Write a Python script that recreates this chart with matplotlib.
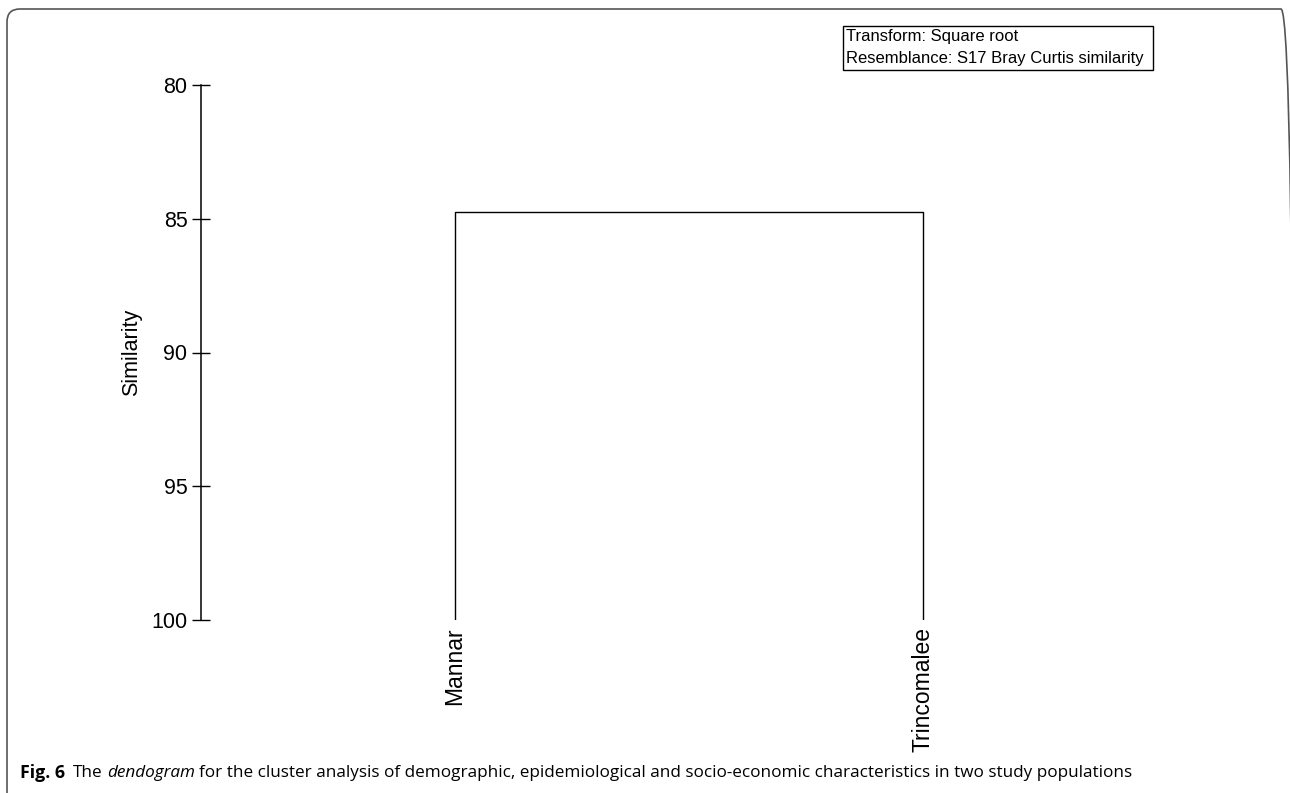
import matplotlib
matplotlib.use('Agg')
import matplotlib.pyplot as plt
from matplotlib.patches import FancyBboxPatch

# Data: leaves and the level at which they join
leaves = ['Mannar', 'Trincomalee']
join_similarity = 84.75
y_ticks = [80, 85, 90, 95, 100]
legend_lines = ['Transform: Square root', 'Resemblance: S17 Bray Curtis similarity']

plt.rcParams['font.family'] = ['Liberation Sans', 'DejaVu Sans']

W, H = 1290, 793
fig = plt.figure(figsize=(W / 100, H / 100), dpi=100)

# Rounded panel border (bottom and right edge run off the image)
border = FancyBboxPatch((7 / W, -0.05), (1294 - 7) / W, (H - 9) / H + 0.05,
                        boxstyle='round,pad=0,rounding_size=%f' % (13 / W),
                        transform=fig.transFigure, facecolor='none',
                        edgecolor='#555555', linewidth=1.2, mutation_aspect=W / H)
fig.patches.append(border)

# Axes placed to match the reference pixel layout
left, right = 201, 1177
top, bottom = 85, 620
ax = fig.add_axes([left / W, 1 - bottom / H, (right - left) / W, (bottom - top) / H])
ax.patch.set_alpha(0)

xs = list(range(1, len(leaves) + 1))
ax.plot([xs[0], xs[0], xs[1], xs[1]],
        [y_ticks[-1], join_similarity, join_similarity, y_ticks[-1]],
        color='black', linewidth=1.0, solid_capstyle='butt')

ax.set_ylim(y_ticks[-1], y_ticks[0])
ax.set_xlim(0.4573, 2.543)
ax.set_yticks(y_ticks)
ax.set_xticks([])
for side in ['top', 'right', 'bottom']:
    ax.spines[side].set_visible(False)
ax.spines['left'].set_linewidth(1.1)
ax.tick_params(axis='y', direction='inout', length=13.5, width=1.0, labelsize=15.5, pad=3)
ax.set_ylabel('Similarity', fontsize=15.5, labelpad=7)

for x, name in zip(xs, leaves):
    ax.annotate(name, xy=(x, y_ticks[-1]), xytext=(0, -5), textcoords='offset points',
                rotation=90, ha='center', va='top', fontsize=16.5)

# Legend box in the upper right
fig.text(846 / W, 1 - 37 / H, legend_lines[0], ha='left', va='center', fontsize=12)
fig.text(846 / W, 1 - 59 / H, legend_lines[1], ha='left', va='center', fontsize=12)
fig.patches.append(plt.Rectangle((843 / W, 1 - 70 / H), (1153 - 843) / W, 44 / H,
                                 transform=fig.transFigure, facecolor='none',
                                 edgecolor='black', linewidth=1.0))

# Caption
cap_y = 1 - 773 / H
cap_fs = 12.3
t1 = fig.text(20 / W, cap_y, 'Fig. 6', fontweight='bold', fontsize=cap_fs + 0.5,
              family=['Open Sans'], va='center', ha='left')
fig.canvas.draw()
r = fig.canvas.get_renderer()
x = t1.get_window_extent(r).x1 + 8
t2 = fig.text(x / W, cap_y, 'The', fontsize=cap_fs, family=['Open Sans'], va='center')
x = t2.get_window_extent(r).x1 + 4
t3 = fig.text(x / W, cap_y, 'dendogram', fontsize=cap_fs, family=['Open Sans'],
              style='italic', va='center')
x = t3.get_window_extent(r).x1 + 4
fig.text(x / W, cap_y, 'for the cluster analysis of demographic, epidemiological and '
         'socio-economic characteristics in two study populations',
         fontsize=cap_fs, family=['Open Sans'], va='center')

fig.savefig('out.png', dpi=100)
